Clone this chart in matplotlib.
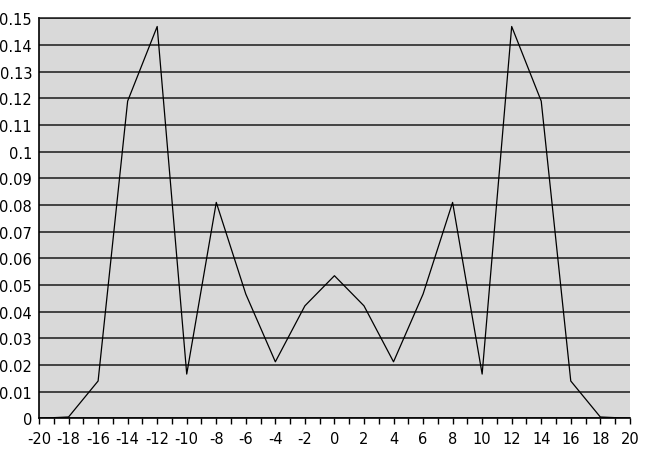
import matplotlib
matplotlib.use("Agg")
import matplotlib.pyplot as plt
import numpy as np

x_values = [-20, -18, -16, -14, -12, -10, -8, -6, -4, -2, 0, 2, 4, 6, 8, 10, 12, 14, 16, 18, 20]
y_values = [0.0, 0.0005, 0.014, 0.119, 0.147, 0.0166, 0.081, 0.0466, 0.0212, 0.0422, 0.0535,
            0.0422, 0.0212, 0.0466, 0.081, 0.0166, 0.147, 0.119, 0.014, 0.0005, 0.0]
y_ticks = [0, 0.01, 0.02, 0.03, 0.04, 0.05, 0.06, 0.07, 0.08, 0.09, 0.1, 0.11, 0.12, 0.13, 0.14, 0.15]
y_labels = ["0", "0.01", "0.02", "0.03", "0.04", "0.05", "0.06", "0.07", "0.08", "0.09",
            "0.1", "0.11", "0.12", "0.13", "0.14", "0.15"]

plt.rcParams['font.family'] = ['DejaVu Sans']

fig = plt.figure(figsize=(6.46, 4.64), dpi=100)
ax = fig.add_axes([0.0604, 0.0963, 0.9146, 0.8617])
ax.set_facecolor('#d9d9d9')

ax.plot(x_values, y_values, color='black', linewidth=0.9, zorder=3)

ax.set_xlim(-20, 20)
ax.set_ylim(0, 0.15)
ax.set_yticks(y_ticks)
ax.set_yticklabels(y_labels)
ax.set_xticks(x_values)
ax.set_xticklabels([str(v) for v in x_values])
ax.set_xticks(np.arange(-19, 20, 2), minor=True)

ax.yaxis.grid(True, color='#1a1a1a', linewidth=1.1)
ax.set_axisbelow(True)

ax.tick_params(axis='y', length=0, pad=5, labelsize=10.5)
ax.tick_params(axis='x', which='both', direction='out', length=4, width=1, pad=5, labelsize=10.5)

ax.spines['right'].set_visible(False)
ax.spines['top'].set_color('#1a1a1a')
ax.spines['top'].set_linewidth(1.1)
ax.spines['left'].set_color('black')
ax.spines['left'].set_linewidth(1.2)
ax.spines['bottom'].set_color('black')
ax.spines['bottom'].set_linewidth(1.2)

fig.savefig('out.png', dpi=100)
